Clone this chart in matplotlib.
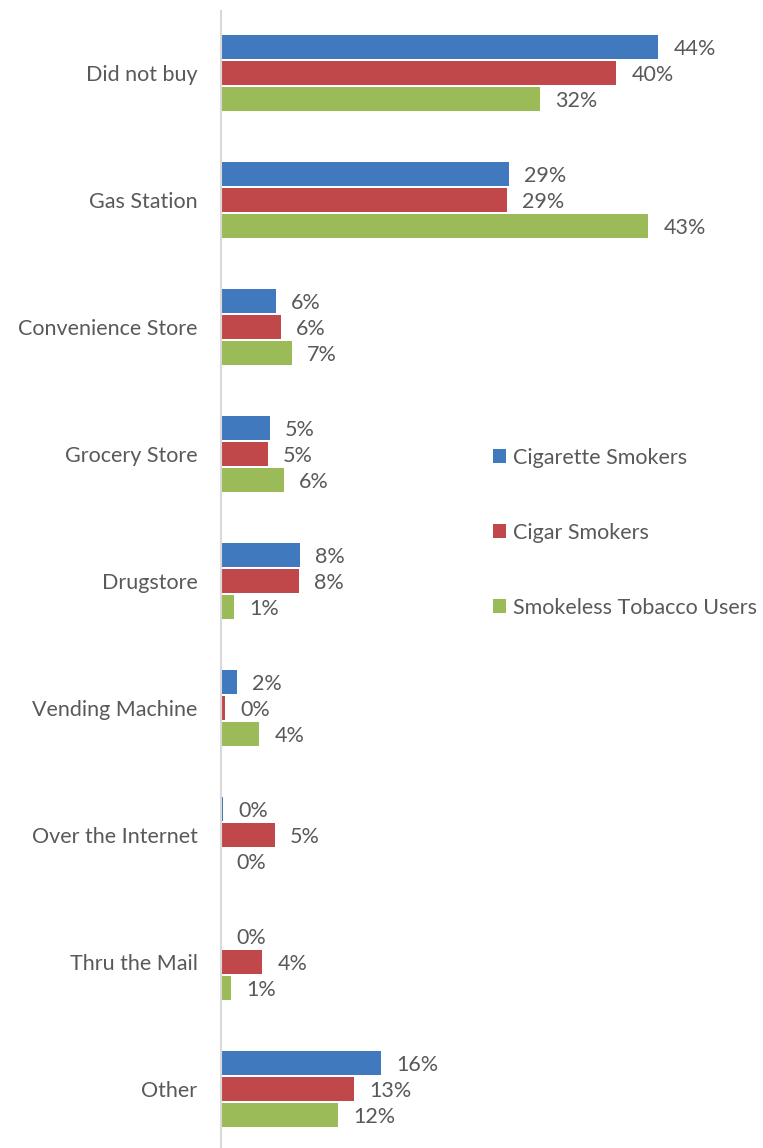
import numpy as np
import matplotlib.pyplot as plt
from matplotlib.patches import Patch

plt.rcParams['font.family'] = ['Lato', 'DejaVu Sans']

categories = ['Did not buy', 'Gas Station', 'Convenience Store', 'Grocery Store',
              'Drugstore', 'Vending Machine', 'Over the Internet', 'Thru the Mail', 'Other']
cigarette = [43.7, 28.8, 5.5, 4.9, 7.9, 1.6, 0.2, 0.0, 16.0]
cigar = [39.5, 28.6, 6.0, 4.7, 7.8, 0.4, 5.4, 4.1, 13.3]
smokeless = [31.9, 42.7, 7.1, 6.3, 1.3, 3.8, 0.0, 1.0, 11.7]
series_names = ['Cigarette Smokers', 'Cigar Smokers', 'Smokeless Tobacco Users']
colors = ['#4079BE', '#C0484A', '#9BBB59']
text_col = '#595959'
fs = 15.5

W, H = 763, 1148
fig = plt.figure(figsize=(W / 100, H / 100), dpi=100)
# axes spans from x=221px, 10px per percent; top at 11px, to bottom of figure
ax = fig.add_axes([221 / W, 0, 500 / W, (H - 11) / H])
ax.set_xlim(0, 50)
ax.set_ylim(8.465, -0.488)

y = np.arange(len(categories))
offs = [-0.203, 0.0, 0.203]
hgt = 0.19
for vals, off, c in zip([cigarette, cigar, smokeless], offs, colors):
    ax.barh(y + off, vals, height=hgt, color=c, linewidth=0)
    for yi, v in zip(y + off, vals):
        ax.annotate('%d%%' % round(v), (v, yi), xytext=(11, -1.5), textcoords='offset points',
                    va='center', ha='left', fontsize=fs, color=text_col)

ax.set_yticks(y)
ax.set_yticklabels(categories, fontsize=fs, color=text_col)
ax.tick_params(axis='y', length=0, pad=17)
ax.set_xticks([])
for s in ['top', 'right', 'bottom']:
    ax.spines[s].set_visible(False)
ax.spines['left'].set_color('#D9D9D9')
ax.spines['left'].set_linewidth(1.5)

handles = [Patch(facecolor=c, edgecolor='none') for c in colors]
fig.legend(handles, series_names, loc='upper left', bbox_to_anchor=(482 / W, 1 - 437 / H),
           frameon=False, fontsize=fs, labelcolor=text_col, handlelength=0.6,
           handleheight=0.6, handletextpad=0.35, labelspacing=2.55, borderpad=0)

fig.savefig('out.png', dpi=100)
